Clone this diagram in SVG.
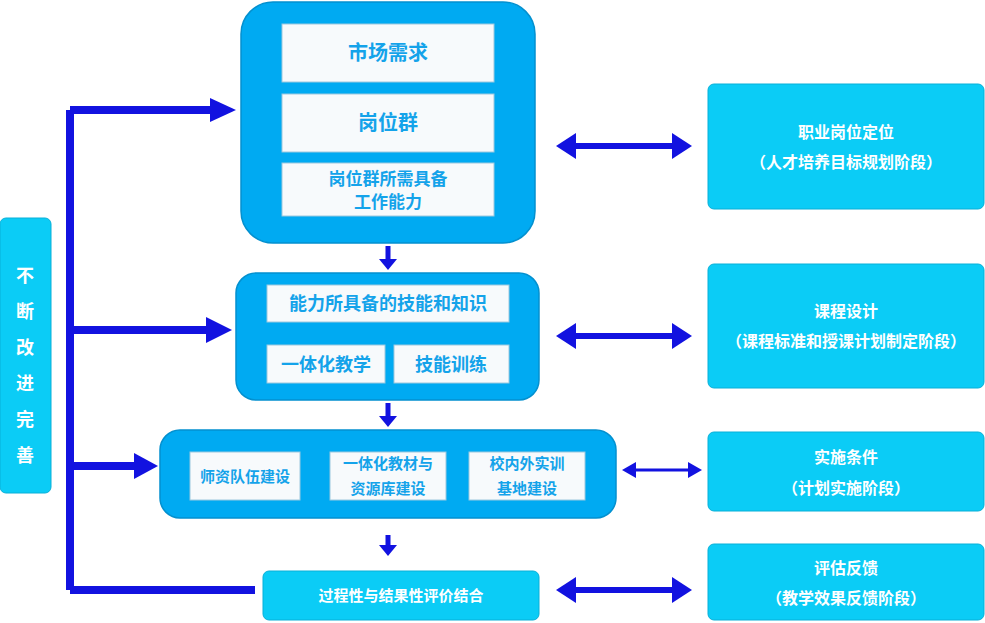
<svg xmlns="http://www.w3.org/2000/svg" width="985" height="623" viewBox="0 0 985 623">
<style>
.big{fill:#00AAF2;stroke:#0390CF;stroke-width:1.5}
.in{fill:#F7FAFC;stroke:#9CC8DE;stroke-width:1}
.cy{fill:#0BCCF6;stroke:#08B0D8;stroke-width:1}
.t{font-family:"Noto Sans CJK SC",sans-serif;font-weight:bold;font-size:18px;fill:#14A3EA;text-anchor:middle}
.w{font-family:"Noto Sans CJK SC",sans-serif;font-weight:bold;font-size:16px;fill:#FFFFFF;text-anchor:middle}
.ln{stroke:#1212E0;fill:none}
.ar{fill:#1212E0}
</style>
<g id="connectors">
<path class="ln" stroke-width="8" d="M70 110V590M70 110H215M70 330H210M70 466H140M70 590H255"/>
<polygon class="ar" points="210,98 236,110 210,122"/>
<polygon class="ar" points="206,317 232,330 206,343"/>
<polygon class="ar" points="134,453 158,466 134,479"/>
<path class="ln" stroke-width="6" d="M572 146H676M572 336H676M572 590H676"/>
<polygon class="ar" points="556,146 576,133 576,159"/><polygon class="ar" points="692,146 672,133 672,159"/>
<polygon class="ar" points="556,336 576,323 576,349"/><polygon class="ar" points="692,336 672,323 672,349"/>
<polygon class="ar" points="556,590 576,577 576,603"/><polygon class="ar" points="692,590 672,577 672,603"/>
<path class="ln" stroke-width="3" d="M632 470H692"/>
<polygon class="ar" points="622,470 636,462 636,478"/><polygon class="ar" points="702,470 688,462 688,478"/>
<path class="ln" stroke-width="5" d="M388 246V262M388 403V419M388 535V548"/>
<polygon class="ar" points="379,259 397,259 388,270"/>
<polygon class="ar" points="379,416 397,416 388,427"/>
<polygon class="ar" points="379,545 397,545 388,556"/>
</g>
<g id="top"><rect class="big" x="241" y="2" width="294" height="241" rx="32"/>
<rect class="in" x="282" y="24" width="212" height="58"/><text class="t" x="388" y="60" style="font-size:20px">市场需求</text>
<rect class="in" x="282" y="94" width="212" height="58"/><text class="t" x="388" y="130" style="font-size:20px">岗位群</text>
<rect class="in" x="282" y="163" width="212" height="53"/><text class="t" x="388" y="185" style="font-size:17px">岗位群所需具备</text><text class="t" x="388" y="208" style="font-size:17px">工作能力</text></g>
<g id="mid"><rect class="big" x="236" y="273" width="303" height="127" rx="20"/>
<rect class="in" x="267" y="285" width="242" height="37"/><text class="t" x="388" y="310">能力所具备的技能和知识</text>
<rect class="in" x="267" y="345" width="118" height="38"/><text class="t" x="326" y="371">一体化教学</text>
<rect class="in" x="394" y="345" width="115" height="38"/><text class="t" x="451" y="371">技能训练</text></g>
<g id="res"><rect class="big" x="160" y="430" width="456" height="88" rx="20"/>
<rect class="in" x="190" y="452" width="110" height="48"/><text class="t" x="245" y="482" style="font-size:15px">师资队伍建设</text>
<rect class="in" x="330" y="452" width="116" height="48"/><text class="t" x="388" y="469" style="font-size:15px">一体化教材与</text><text class="t" x="388" y="494" style="font-size:15px">资源库建设</text>
<rect class="in" x="469" y="452" width="116" height="48"/><text class="t" x="527" y="469" style="font-size:15px">校内外实训</text><text class="t" x="527" y="494" style="font-size:15px">基地建设</text></g>
<g id="eval"><rect class="cy" x="263" y="571" width="276" height="49" rx="6"/><text class="w" x="401" y="601" style="font-size:15px">过程性与结果性评价结合</text></g>
<g id="left"><rect class="cy" x="0" y="218" width="51" height="275" rx="6"/>
<text class="w" style="font-size:18px" x="25"><tspan x="25" y="282">不</tspan><tspan x="25" y="318">断</tspan><tspan x="25" y="354">改</tspan><tspan x="25" y="390">进</tspan><tspan x="25" y="426">完</tspan><tspan x="25" y="444" dy="18">善</tspan></text></g>
<g id="r1"><rect class="cy" x="708" y="84" width="276" height="125" rx="6"/><text class="w" x="846" y="138">职业岗位定位</text><text class="w" x="846" y="168">（人才培养目标规划阶段）</text></g>
<g id="r2"><rect class="cy" x="708" y="264" width="276" height="124" rx="6"/><text class="w" x="846" y="317">课程设计</text><text class="w" x="846" y="347">（课程标准和授课计划制定阶段）</text></g>
<g id="r3"><rect class="cy" x="708" y="432" width="276" height="79" rx="6"/><text class="w" x="846" y="463">实施条件</text><text class="w" x="846" y="494">（计划实施阶段）</text></g>
<g id="r4"><rect class="cy" x="708" y="544" width="276" height="76" rx="6"/><text class="w" x="846" y="574">评估反馈</text><text class="w" x="846" y="604">（教学效果反馈阶段）</text></g>
</svg>
